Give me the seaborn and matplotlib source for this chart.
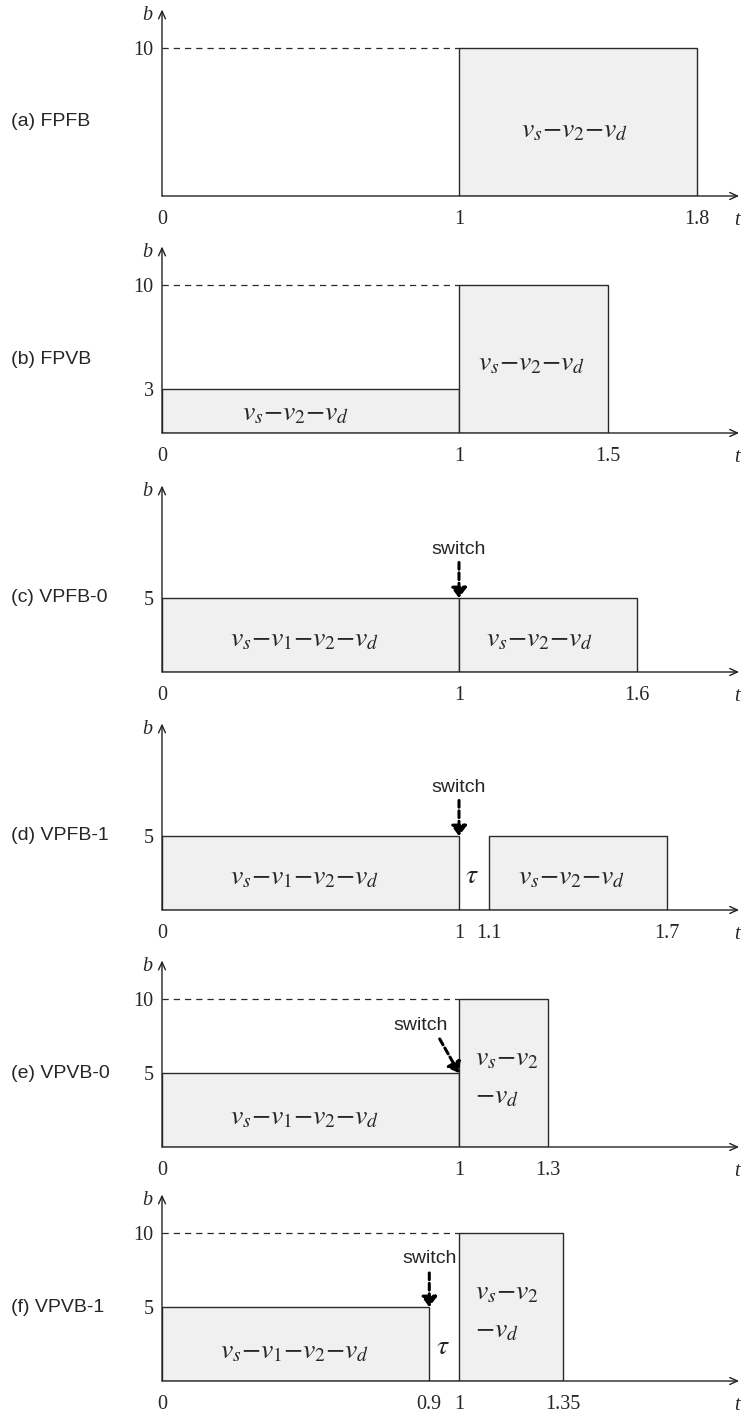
import matplotlib.pyplot as plt
import matplotlib.transforms as mtransforms
import seaborn as sns

sns.set_style("white")
plt.rcParams['font.family'] = ['Liberation Sans', 'DejaVu Sans']
plt.rcParams['mathtext.fontset'] = 'stix'

# %% Data

panel_names = ['(a) FPFB', '(b) FPVB', '(c) VPFB-0', '(d) VPFB-1', '(e) VPVB-0', '(f) VPVB-1']

# slot edges along t and the bandwidth b of each slot (0 = idle gap)
slot_edges = [
    [1, 1.8],
    [0, 1, 1.5],
    [0, 1, 1.6],
    [0, 1, 1.1, 1.7],
    [0, 1, 1.3],
    [0, 0.9, 1, 1.35],
]
slot_b = [
    [10],
    [3, 10],
    [5, 5],
    [5, 0, 5],
    [5, 10],
    [5, 0, 10],
]

t_ticks = [
    [0, 1, 1.8],
    [0, 1, 1.5],
    [0, 1, 1.6],
    [0, 1, 1.1, 1.7],
    [0, 1, 1.3],
    [0, 0.9, 1, 1.35],
]
t_tick_labels = [
    ['0', '1', '1.8'],
    ['0', '1', '1.5'],
    ['0', '1', '1.6'],
    ['0', '1', '1.1', '1.7'],
    ['0', '1', '1.3'],
    ['0', '0.9', '1', '1.35'],
]
b_ticks = [[10], [3, 10], [5], [5], [5, 10], [5, 10]]
b_max = [10, 10, None, None, 10, 10]   # dashed guide up to the big slot

path_a = r'$v_s{-}v_1{-}v_2{-}v_d$'
path_b = r'$v_s{-}v_2{-}v_d$'

# text inside slots: (t, b, text, ha)
slot_text = [
    [(1.39, 4.4, path_b, 'center')],
    [(0.45, 1.35, path_b, 'center'), (1.245, 4.7, path_b, 'center')],
    [(0.48, 2.2, path_a, 'center'), (1.27, 2.2, path_b, 'center')],
    [(0.48, 2.2, path_a, 'center'), (1.045, 2.3, r'$\tau$', 'center'), (1.38, 2.2, path_b, 'center')],
    [(0.48, 2.0, path_a, 'center'), (1.055, 6.0, r'$v_s{-}v_2$', 'left'), (1.055, 3.4, r'${-}v_d$', 'left')],
    [(0.445, 2.0, path_a, 'center'), (0.945, 2.3, r'$\tau$', 'center'),
     (1.055, 6.0, r'$v_s{-}v_2$', 'left'), (1.055, 3.4, r'${-}v_d$', 'left')],
]

# switch arrows: (text t, text b, arrow start, arrow end)
switch = [
    None,
    None,
    (1.0, 8.3, (1.0, 7.4), (1.0, 5.0)),
    (1.0, 8.3, (1.0, 7.4), (1.0, 5.0)),
    (0.87, 8.2, (0.935, 7.3), (1.0, 5.0)),
    (0.9, 8.3, (0.9, 7.3), (0.9, 5.0)),
]

# %% Layout

W, H = 746, 1420
baselines = [196, 433, 672, 910, 1147, 1381]
x0_px, px_per_t, px_per_b = 162, 297, 14.8
t_end, b_end = 1.943, 12.6

fig = plt.figure(figsize=(W / 100, H / 100), dpi=100)

serif = ['Liberation Serif', 'DejaVu Serif']
edge = '#2a2a2a'

for i, name in enumerate(panel_names):
    ax = fig.add_axes([x0_px / W, (H - baselines[i]) / H,
                       t_end * px_per_t / W, b_end * px_per_b / H])

    edges = slot_edges[i]
    mids = [(edges[k] + edges[k + 1]) / 2 for k in range(len(edges) - 1)]
    sns.histplot(x=mids, weights=slot_b[i], bins=edges, ax=ax,
                 color='#f0f0f0', edgecolor=edge, linewidth=1.0, alpha=1)

    ax.set_xlim(0, t_end)
    ax.set_ylim(0, b_end)
    ax.set(xlabel='', ylabel='')
    sns.despine(ax=ax, left=True, bottom=True)

    # axes drawn as arrows
    for tip in [(1, 0), (0, 1)]:
        ax.annotate('', xy=tip, xytext=(0, 0), xycoords='axes fraction',
                    arrowprops=dict(arrowstyle='->,head_length=0.55,head_width=0.25',
                                    lw=1.0, color='#222222', shrinkA=0, shrinkB=0))

    ax.set_xticks(t_ticks[i], t_tick_labels[i], fontfamily=serif, fontsize=14.5)
    ax.set_yticks(b_ticks[i], [str(v) for v in b_ticks[i]], fontfamily=serif, fontsize=14.5)
    ax.tick_params(axis='x', length=0, pad=10)
    ax.tick_params(axis='y', length=0, pad=6)

    if b_max[i]:
        ax.hlines(b_max[i], 0, 1, colors=edge, lw=0.9, linestyles=(0, (5, 4)))

    ax.text(-0.048, 12.2, 'b', fontfamily=serif, style='italic', fontsize=14.5,
            ha='center', va='center')
    ax.text(1.935, -1.65, 't', fontfamily=serif, style='italic', fontsize=14.5,
            ha='center', va='center', clip_on=False)

    for tx, ty, s, ha in slot_text[i]:
        ax.text(tx, ty, s, fontsize=20, ha=ha, va='center')

    if switch[i]:
        sx, sy, start, end = switch[i]
        ax.text(sx, sy, 'switch', fontsize=14, ha='center', va='center')
        ax.annotate('', xy=end, xytext=start,
                    arrowprops=dict(arrowstyle='-|>,head_length=0.6,head_width=0.45',
                                    lw=2.2, ls=(0, (2.2, 1.2)), color='black',
                                    shrinkA=0, shrinkB=0))

    trans = mtransforms.blended_transform_factory(fig.transFigure, ax.transData)
    ax.text(11 / W, 5, name, transform=trans, fontsize=14, ha='left', va='center')

fig.savefig('out.png', dpi=100)
